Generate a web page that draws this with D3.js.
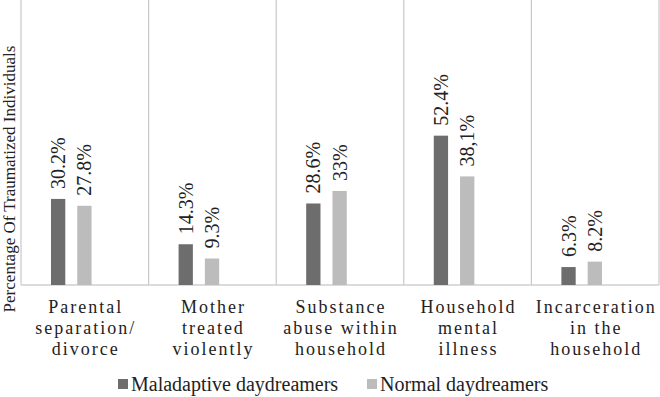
<!DOCTYPE html>
<html>
<head>
<meta charset="utf-8">
<script src="https://cdn.jsdelivr.net/npm/d3@7"></script>
<style>
  body { margin: 0; background: #fff; }
  text { font-family: "Liberation Serif", "Times New Roman", serif; fill: #222; }
</style>
</head>
<body>
<div id="chart"></div>
<script>
const categories = [
  ["Parental", "separation/", "divorce"],
  ["Mother", "treated", "violently"],
  ["Substance", "abuse within", "household"],
  ["Household", "mental", "illness"],
  ["Incarceration", "in the", "household"]
];
const series = ["Maladaptive daydreamers", "Normal daydreamers"];
const maladaptive = [30.2, 14.3, 28.6, 52.4, 6.3];
const normal = [27.8, 9.3, 33, 38.1, 8.2];
const maladaptiveLabels = ["30.2%", "14.3%", "28.6%", "52.4%", "6.3%"];
const normalLabels = ["27.8%", "9.3%", "33%", "38,1%", "8.2%"];
const colors = ["#6d6d6d", "#bcbcbc"];

const width = 660, height = 397;
const margin = { top: 0, right: 1, bottom: 112, left: 21 };
const innerW = width - margin.left - margin.right,
      innerH = height - margin.top - margin.bottom;

const svg = d3.select("#chart")
              .append("svg")
              .attr("width", width)
              .attr("height", height);

const g = svg.append("g")
             .attr("transform", `translate(${margin.left},${margin.top})`);

const x0 = d3.scaleBand()
             .domain(d3.range(categories.length))
             .range([0, innerW])
             .padding(0);

const bw = x0.bandwidth();
const x1 = d3.scaleBand()
             .domain(series)
             .range([bw * 0.235, bw * 0.553])
             .paddingInner(0.456)
             .paddingOuter(0);

const y = d3.scaleLinear()
            .domain([0, 100])
            .range([innerH, 0]);

// vertical separators
g.selectAll("line.grid")
 .data(d3.range(categories.length + 1))
 .join("line")
 .attr("class", "grid")
 .attr("x1", d => d === categories.length ? innerW : x0(d))
 .attr("x2", d => d === categories.length ? innerW : x0(d))
 .attr("y1", 0)
 .attr("y2", innerH)
 .attr("stroke", "#c8c8c8")
 .attr("stroke-width", 1.2);

// baseline
g.append("line")
 .attr("x1", 0)
 .attr("x2", innerW)
 .attr("y1", innerH)
 .attr("y2", innerH)
 .attr("stroke", "#cfcfcf")
 .attr("stroke-width", 1.5);

const rows = [];
categories.forEach((c, i) => {
  rows.push({ i, s: series[0], v: maladaptive[i], label: maladaptiveLabels[i], color: colors[0] });
  rows.push({ i, s: series[1], v: normal[i], label: normalLabels[i], color: colors[1] });
});

g.selectAll("rect.bar")
 .data(rows)
 .join("rect")
 .attr("class", "bar")
 .attr("x", d => x0(d.i) + x1(d.s))
 .attr("y", d => y(d.v))
 .attr("width", x1.bandwidth())
 .attr("height", d => innerH - y(d.v))
 .attr("fill", d => d.color);

// value labels, rotated
g.selectAll("text.value")
 .data(rows)
 .join("text")
 .attr("class", "value")
 .attr("transform", d => `translate(${x0(d.i) + x1(d.s) + x1.bandwidth() / 2},${y(d.v) - 10}) rotate(-90)`)
 .attr("dy", "0.35em")
 .attr("text-anchor", "start")
 .style("font-size", "20px")
 .text(d => d.label);

// category labels
const catText = g.selectAll("text.cat")
 .data(categories)
 .join("text")
 .attr("class", "cat")
 .attr("text-anchor", "middle")
 .style("font-size", "18px")
 .style("letter-spacing", "2px");

catText.selectAll("tspan")
 .data((d, i) => d.map(line => ({ line, i })))
 .join("tspan")
 .attr("x", d => x0(d.i) + bw / 2 + 1)
 .attr("y", (d, j) => innerH + 28 + j * 21)
 .text(d => d.line);

// y axis title
svg.append("text")
   .attr("transform", `translate(15,${179}) rotate(-90)`)
   .attr("text-anchor", "middle")
   .style("font-size", "17px")
   .text("Percentage Of Traumatized Individuals");

// legend
const legendX = [118, 367];
const legend = svg.selectAll("g.legend")
                  .data(series)
                  .join("g")
                  .attr("class", "legend")
                  .attr("transform", (d, i) => `translate(${legendX[i]},379)`);

legend.append("rect")
      .attr("width", 10)
      .attr("height", 10)
      .attr("fill", (d, i) => colors[i]);

legend.append("text")
      .attr("x", 13)
      .attr("y", 12)
      .style("font-size", "20px")
      .text(d => d);
</script>
</body>
</html>
